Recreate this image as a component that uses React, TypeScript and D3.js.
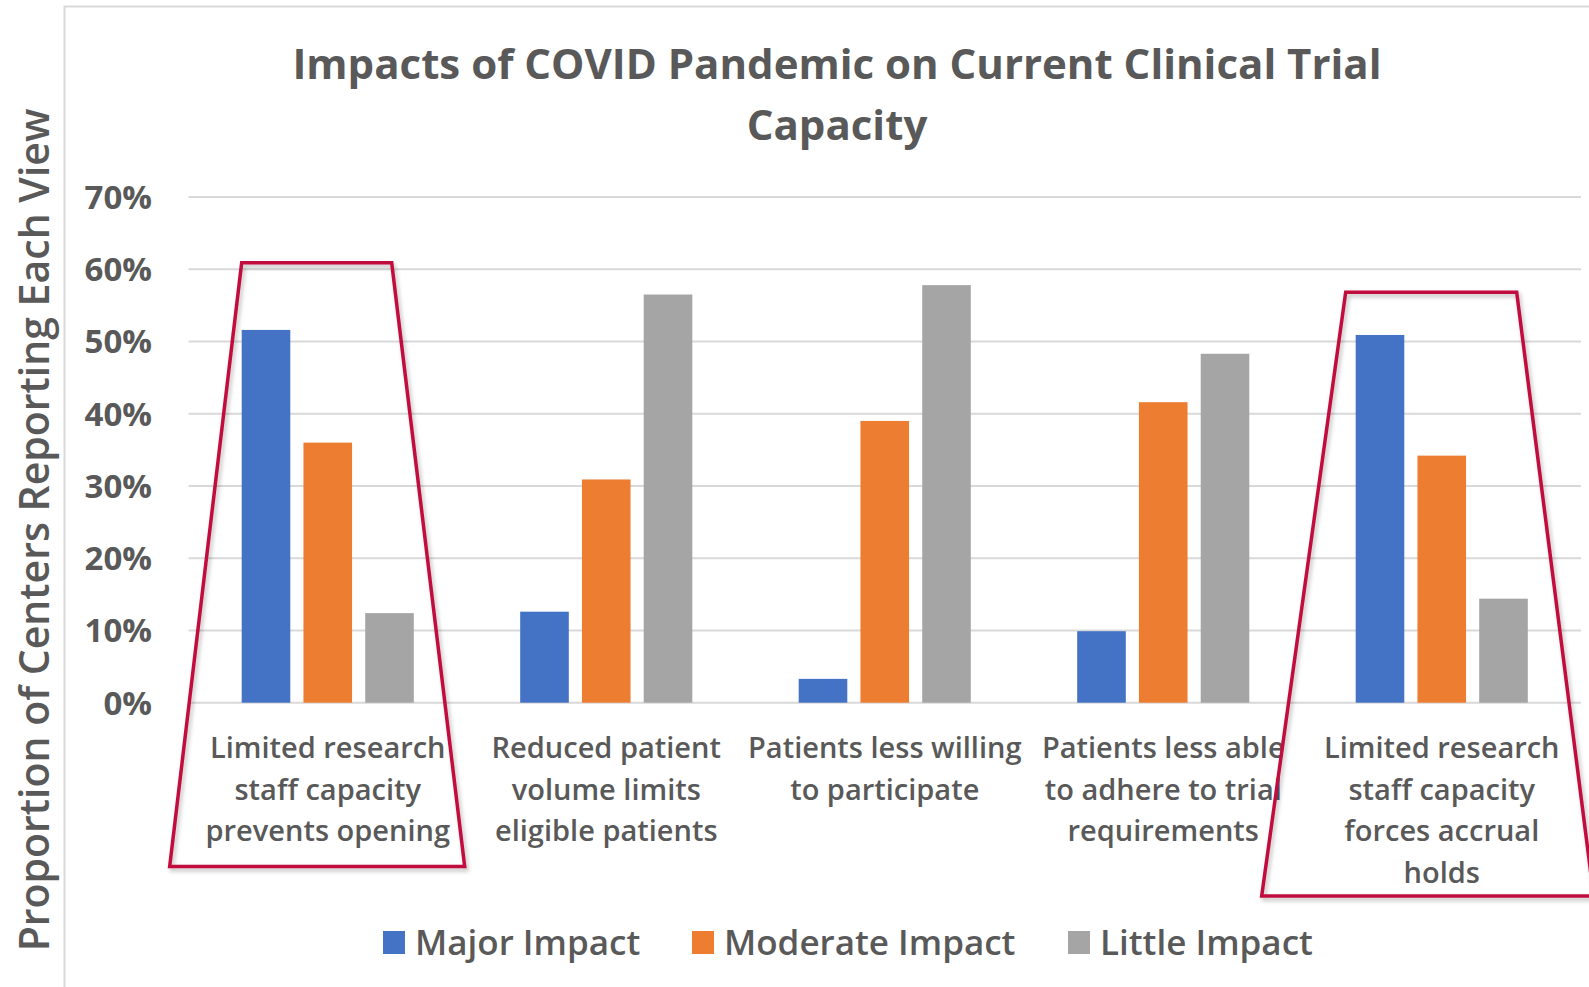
import React, { useEffect, useRef } from "react";
import * as d3 from "d3";

// chart data
const categories = [
  ["Limited research", "staff capacity", "prevents opening"],
  ["Reduced patient", "volume limits", "eligible patients"],
  ["Patients less willing", "to participate"],
  ["Patients less able", "to adhere to trial", "requirements"],
  ["Limited research", "staff capacity", "forces accrual", "holds"],
];
const seriesNames = ["Major Impact", "Moderate Impact", "Little Impact"];
const majorImpact = [0.516, 0.126, 0.033, 0.099, 0.509];
const moderateImpact = [0.36, 0.309, 0.39, 0.416, 0.342];
const littleImpact = [0.124, 0.565, 0.578, 0.483, 0.144];
const yTicks = [0, 0.1, 0.2, 0.3, 0.4, 0.5, 0.6, 0.7];
const titleLines = ["Impacts of COVID Pandemic on Current Clinical Trial", "Capacity"];
const yTitle = "Proportion of Centers Reporting Each View";
// highlighted categories (index, top value of the box)
const highlights = [
  { index: 0, top: 0.609 },
  { index: 4, top: 0.568 },
];

const colors = ["#4472C4", "#ED7D31", "#A5A5A5"];
const textColor = "#595959";
const font = "'Open Sans', sans-serif";

const App = () => {
  const ref = useRef<SVGSVGElement>(null);

  useEffect(() => {
    const W = 1589, H = 987;
    const svg = d3.select(ref.current);
    svg.selectAll("*").remove();
    svg.attr("width", W).attr("height", H);

    const left = 188.5, right = 1581, top = 197, bottom = 702.7;
    const names = categories.map((c) => c.join(" "));
    const values = [majorImpact, moderateImpact, littleImpact];

    const x0 = d3.scaleBand().domain(names).range([left, right])
      .paddingInner(0.382).paddingOuter(0.191);
    const x1 = d3.scaleBand().domain(seriesNames).range([0, x0.bandwidth()])
      .paddingInner(0.213);
    const y = d3.scaleLinear().domain([0, 0.7]).range([bottom, top]);

    svg.append("rect").attr("width", W).attr("height", H).attr("fill", "#fff");

    // outer frame
    svg.append("path")
      .attr("d", `M64.5,${H} V6.5 H${W}`)
      .attr("fill", "none")
      .attr("stroke", "#D9D9D9")
      .attr("stroke-width", 2);

    // grid
    svg.append("g")
      .selectAll("line")
      .data(yTicks)
      .join("line")
      .attr("x1", left).attr("x2", right)
      .attr("y1", (d) => y(d)).attr("y2", (d) => y(d))
      .attr("stroke", "#D9D9D9")
      .attr("stroke-width", 2);

    // y tick labels
    svg.append("g")
      .selectAll("text")
      .data(yTicks)
      .join("text")
      .attr("x", 152)
      .attr("y", (d) => y(d))
      .attr("dy", "0.36em")
      .attr("text-anchor", "end")
      .attr("font-family", font)
      .attr("font-weight", 700)
      .attr("font-size", 33)
      .attr("fill", textColor)
      .text((d) => d3.format(".0%")(d));

    // bars
    const groups = svg.append("g")
      .selectAll("g")
      .data(names)
      .join("g")
      .attr("transform", (d) => `translate(${x0(d)},0)`);
    groups.selectAll("rect")
      .data((_, i) => seriesNames.map((s, j) => ({ s, v: values[j][i], j })))
      .join("rect")
      .attr("x", (d) => x1(d.s)!)
      .attr("width", x1.bandwidth())
      .attr("y", (d) => y(d.v))
      .attr("height", (d) => y(0) - y(d.v))
      .attr("fill", (d) => colors[d.j]);

    // category labels
    groups.append("text")
      .attr("x", x0.bandwidth() / 2)
      .attr("text-anchor", "middle")
      .attr("font-family", font)
      .attr("font-weight", 600)
      .attr("font-size", 29)
      .attr("fill", textColor)
      .selectAll("tspan")
      .data((_, i) => categories[i])
      .join("tspan")
      .attr("x", x0.bandwidth() / 2)
      .attr("y", (_, k) => 758 + k * 41.5)
      .text((d) => d);

    // title
    svg.append("text")
      .attr("text-anchor", "middle")
      .attr("font-family", font)
      .attr("font-weight", 700)
      .attr("font-size", 42)
      .attr("fill", textColor)
      .selectAll("tspan")
      .data(titleLines)
      .join("tspan")
      .attr("x", 837)
      .attr("y", (_, k) => 79 + k * 61)
      .text((d) => d);

    // y axis title
    svg.append("text")
      .attr("transform", "translate(49,530) rotate(-90)")
      .attr("text-anchor", "middle")
      .attr("font-family", font)
      .attr("font-weight", 600)
      .attr("font-size", 41)
      .attr("fill", textColor)
      .text(yTitle);

    // legend
    const legendX = [383, 692, 1068];
    const legend = svg.append("g")
      .selectAll("g")
      .data(seriesNames)
      .join("g")
      .attr("transform", (_, i) => `translate(${legendX[i]},931)`);
    legend.append("rect")
      .attr("width", 22).attr("height", 23)
      .attr("fill", (_, i) => colors[i]);
    legend.append("text")
      .attr("x", 32).attr("y", 24)
      .attr("font-family", font)
      .attr("font-weight", 600)
      .attr("font-size", 35)
      .attr("fill", textColor)
      .text((d) => d);

    // red highlight boxes
    const defs = svg.append("defs");
    defs.append("filter").attr("id", "shadow")
      .append("feDropShadow")
      .attr("dx", 2).attr("dy", 3).attr("stdDeviation", 2)
      .attr("flood-color", "#000").attr("flood-opacity", 0.25);
    const boxBottom = [866.5, 896];
    svg.append("g")
      .selectAll("path")
      .data(highlights)
      .join("path")
      .attr("d", (d, i) => {
        const b = x0(names[d.index])!;
        const ty = y(d.top);
        const by = boxBottom[i];
        const tl = b + (i === 0 ? 0 : -10), tr = b + (i === 0 ? 150 : 161);
        const bl = b + (i === 0 ? -72 : -94), br = b + (i === 0 ? 223 : 238);
        return `M${tl},${ty} L${tr},${ty} L${br},${by} L${bl},${by} Z`;
      })
      .attr("fill", "none")
      .attr("stroke", "#C00C3C")
      .attr("stroke-width", 3.5)
      .attr("stroke-linejoin", "miter")
      .attr("filter", "url(#shadow)");
  }, []);

  return <svg ref={ref} style={{ position: "fixed", left: 0, top: 0 }} />;
};

export default App;
